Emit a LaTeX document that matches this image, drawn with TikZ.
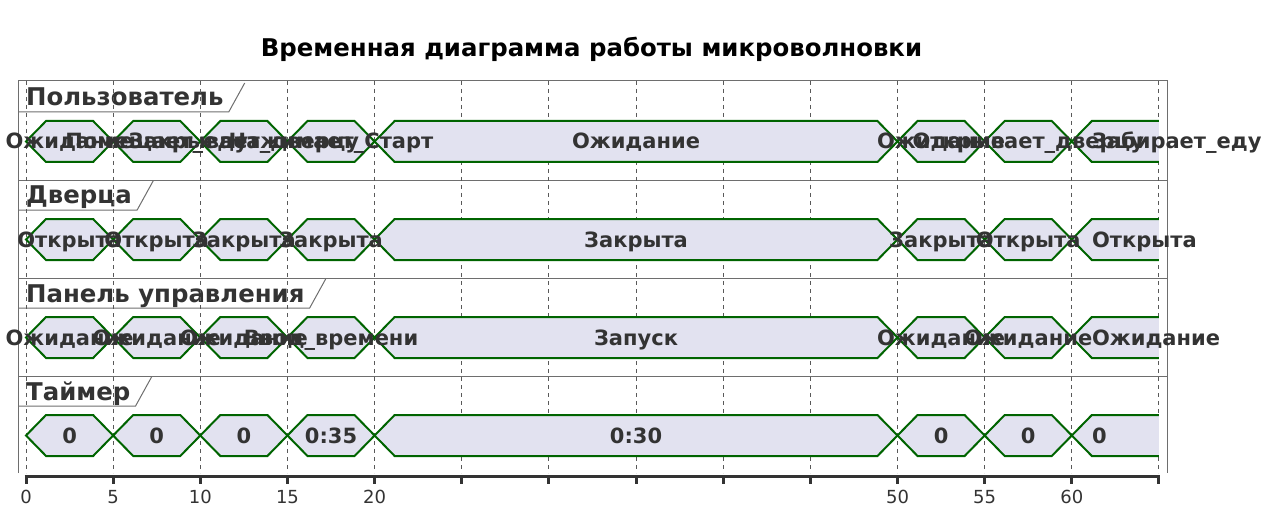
\documentclass[tikz,border=0pt]{standalone}
\usepackage{fontspec}
\setmainfont{DejaVu Sans}
\definecolor{hexfill}{RGB}{226,226,240}
\definecolor{hexline}{RGB}{0,100,0}
\definecolor{txtgray}{RGB}{51,51,51}
\definecolor{framegray}{RGB}{110,110,110}

\begin{document}
\begin{tikzpicture}[x=1pt,y=-1pt,
  hexagon/.style={draw=hexline, fill=hexfill, line width=2pt, line join=miter},
  statelbl/.style={inner sep=0pt, text=txtgray, font=\bfseries\fontsize{21}{24}\selectfont},
  rowtitle/.style={inner sep=0pt, anchor=base west, text=txtgray, font=\bfseries\fontsize{24.4}{28}\selectfont},
  frameline/.style={draw=framegray, line width=1pt},
  gridline/.style={draw=black!65, line width=1pt, dash pattern=on 4pt off 4pt}]
  \useasboundingbox (0,0) rectangle (1280,524);
  \def\h{20.5}% half height of a state
  \def\r{1.15}% slope of a state edge (time units)
  \def\tend{65}

  %title
  \node[anchor=base, inner sep=0pt, font=\bfseries\fontsize{24.4}{28}\selectfont] (title) at (591.5,57) {Временная диаграмма работы микроволновки};

  %frame and rows
  \draw[frameline] (18,473) -- (18,81) -- (1167,81) -- (1167,473);
  \foreach \y in {180,278,376}{
    \draw[frameline] (18,\y) -- (1167,\y);
  }
  \node[rowtitle] (ttlUser) at (26,106) {Пользователь};
  \node[rowtitle] (ttlDoor) at (26,204) {Дверца};
  \node[rowtitle] (ttlPanel) at (26,302) {Панель управления};
  \node[rowtitle] (ttlTimer) at (26,400) {Таймер};
  \foreach \t/\y in {ttlUser/112,ttlDoor/210,ttlPanel/308,ttlTimer/406}{
    \draw[frameline] (18,\y) -- ([shift={(5,6)}]\t.base east) -- ++(16,-29);
  }

  \begin{scope}[shift={(26,0)}, x=17.43pt]
    %time grid
    \foreach \t in {0,5,...,65}{
      \draw[gridline] (\t,81) -- (\t,473);
    }

    %states: start/end/row middle/label
    \foreach \a/\b/\m/\lbl in {
      0/5/141.5/Ожидание, 5/10/141.5/Помещает\_еду, 10/15/141.5/Закрывает\_дверцу,
      15/20/141.5/Нажимает\_Старт, 20/50/141.5/Ожидание, 50/55/141.5/Ожидание,
      55/60/141.5/Открывает\_дверцу,
      0/5/239.5/Открыта, 5/10/239.5/Открыта, 10/15/239.5/Закрыта, 15/20/239.5/Закрыта,
      20/50/239.5/Закрыта, 50/55/239.5/Закрыта, 55/60/239.5/Открыта,
      0/5/337.5/Ожидание, 5/10/337.5/Ожидание, 10/15/337.5/Ожидание,
      15/20/337.5/Ввод\_времени, 20/50/337.5/Запуск, 50/55/337.5/Ожидание,
      55/60/337.5/Ожидание,
      0/5/435.5/0, 5/10/435.5/0, 10/15/435.5/0, 15/20/435.5/0:35,
      20/50/435.5/0:30, 50/55/435.5/0, 55/60/435.5/0}{
      \filldraw[hexagon] (\a,\m) -- (\a+\r,\m-\h) -- (\b-\r,\m-\h) -- (\b,\m)
        -- (\b-\r,\m+\h) -- (\a+\r,\m+\h) -- cycle;
    }
    %last states, open to the right
    \foreach \m in {141.5,239.5,337.5,435.5}{
      \fill[hexfill] (60,\m) -- (60+\r,\m-\h) -- (\tend,\m-\h) -- (\tend,\m+\h) -- (60+\r,\m+\h) -- cycle;
      \draw[hexagon, fill=none] (\tend,\m-\h) -- (60+\r,\m-\h) -- (60,\m) -- (60+\r,\m+\h) -- (\tend,\m+\h);
    }

    %state labels
    \foreach \a/\b/\m/\lbl in {
      0/5/141.5/Ожидание, 5/10/141.5/Помещает\_еду, 10/15/141.5/Закрывает\_дверцу,
      15/20/141.5/Нажимает\_Старт, 20/50/141.5/Ожидание, 50/55/141.5/Ожидание,
      55/60/141.5/Открывает\_дверцу,
      0/5/239.5/Открыта, 5/10/239.5/Открыта, 10/15/239.5/Закрыта, 15/20/239.5/Закрыта,
      20/50/239.5/Закрыта, 50/55/239.5/Закрыта, 55/60/239.5/Открыта,
      0/5/337.5/Ожидание, 5/10/337.5/Ожидание, 10/15/337.5/Ожидание,
      15/20/337.5/Ввод\_времени, 20/50/337.5/Запуск, 50/55/337.5/Ожидание,
      55/60/337.5/Ожидание,
      0/5/435.5/0, 5/10/435.5/0, 10/15/435.5/0, 15/20/435.5/0:35,
      20/50/435.5/0:30, 50/55/435.5/0, 55/60/435.5/0}{
      \node[statelbl, anchor=base] at ({(\a+\b)/2},\m+7.5) {\lbl};
    }
    \foreach \m/\lbl in {141.5/Забирает\_еду, 239.5/Открыта, 337.5/Ожидание, 435.5/0}{
      \node[statelbl, anchor=base west] at (60+\r,\m+7.5) {\lbl};
    }

    %time axis
    \draw[draw=txtgray, line width=3pt] (-0.08,476) -- (\tend+0.08,476);
    \foreach \t in {0,5,...,65}{
      \draw[draw=txtgray, line width=3pt] (\t,476) -- (\t,484);
    }
    \foreach \t in {0,5,10,15,20,50,55,60}{
      \node[anchor=base, inner sep=0pt, text=txtgray, font=\fontsize{18}{21}\selectfont] at (\t,503) {\t};
    }
  \end{scope}
\end{tikzpicture}
\end{document}
